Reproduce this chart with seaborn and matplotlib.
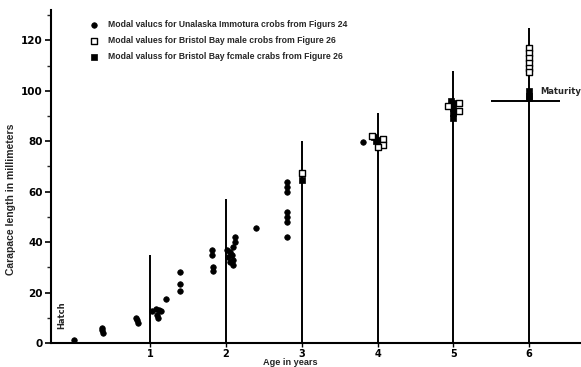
import numpy as np
import pandas as pd
import matplotlib
matplotlib.use("Agg")
import matplotlib.pyplot as plt
from matplotlib.ticker import MultipleLocator
import seaborn as sns

# ---- data ----
unalaska_age = [0.0, 0.36, 0.37, 0.38, 0.82, 0.83, 0.84,
                1.03, 1.08, 1.12, 1.15, 1.09, 1.10, 1.21,
                1.40, 1.40, 1.40, 1.82, 1.82, 1.83, 1.83,
                2.02, 2.05, 2.08, 2.10, 2.05, 2.10, 2.03, 2.12, 2.12, 2.10,
                2.40, 2.80, 2.80, 2.80, 2.80, 2.80, 2.80, 2.80, 3.81]
unalaska_len = [1, 6, 5, 4, 10, 9, 8,
                12.5, 13.5, 13, 12.5, 11, 10, 17.5,
                28, 23.5, 20.5, 37, 35, 30, 28.5,
                37, 36, 35, 33, 32, 31, 34, 42, 40, 38,
                45.7, 64, 62, 60, 52, 50, 48, 42, 79.5]
bb_male_age = [3.0, 3.93, 4.07, 4.07, 4.00, 4.93, 5.07, 5.07,
               6.0, 6.0, 6.0, 6.0, 6.0, 6.0]
bb_male_len = [67.5, 82, 81, 78.5, 77.5, 94, 95, 92,
               117, 115, 113, 111, 109, 107.5]
bb_female_age = [3.0, 3.96, 4.0, 3.98, 4.97, 5.0, 5.0, 5.0, 5.0, 6.0, 6.0, 6.0]
bb_female_len = [64.5, 81.5, 80.5, 80, 96, 95, 93, 91, 89, 100, 98, 97]

year_lines = [1, 2, 3, 4, 5, 6]
year_line_tops = [35, 57, 80, 91, 108, 125]
maturity_len = 96

series_labels = ["Modal valucs for Unalaska Immotura crobs from Figurs 24",
                 "Modal values for Bristol Bay male crobs from Figure 26",
                 "Modal valuss for Bristol Bay fcmale crabs from Figure 26"]

# ---- figure ----
sns.set_theme(style="white")
plt.rcParams['font.family'] = ['DejaVu Sans']
plt.rcParams['font.weight'] = 'bold'

fig = plt.figure(figsize=(5.81, 3.67), dpi=100)
ax = fig.add_axes([51/581, 1-343/367, 529/581, 333/367])

ax.vlines(year_lines, 0, year_line_tops, color="black", lw=1.4, zorder=1)
ax.hlines(maturity_len, 5.49, 6.41, color="black", lw=1.4, zorder=1)

df_u = pd.DataFrame({"age": unalaska_age, "len": unalaska_len})
df_m = pd.DataFrame({"age": bb_male_age, "len": bb_male_len})
df_f = pd.DataFrame({"age": bb_female_age, "len": bb_female_len})

sns.scatterplot(data=df_u, x="age", y="len", ax=ax, marker="o", s=16,
                color="black", edgecolor="black", linewidth=0.5,
                label=series_labels[0], zorder=3)
sns.scatterplot(data=df_m, x="age", y="len", ax=ax, marker="s", s=14,
                facecolor="white", edgecolor="black", linewidth=1.0,
                label=series_labels[1], zorder=4)
sns.scatterplot(data=df_f, x="age", y="len", ax=ax, marker="s", s=16,
                color="black", edgecolor="black", linewidth=0.5,
                label=series_labels[2], zorder=3)

ax.set_xlim(-0.306, 6.67)
ax.set_ylim(0, 132)
ax.set_xticks(year_lines)
ax.set_xticklabels([str(v) for v in year_lines])
ax.set_yticks(np.arange(0, 121, 20))
ax.yaxis.set_minor_locator(MultipleLocator(10))

for s in ["top", "right"]:
    ax.spines[s].set_visible(False)
for s in ["left", "bottom"]:
    ax.spines[s].set_color("black")
    ax.spines[s].set_linewidth(1.5)

ax.tick_params(axis="y", which="major", direction="out", length=4, width=1.2,
               left=True, labelsize=7.5, colors="black", pad=2)
ax.tick_params(axis="y", which="minor", direction="out", length=3, width=1.0, left=True)
ax.tick_params(axis="x", which="major", direction="out", length=3, width=1.0,
               bottom=True, labelsize=7, colors="black", pad=1.5)

lab_font = ['Liberation Sans', 'DejaVu Sans']
ax.set_xlabel("Age in years", fontsize=6.6, fontweight="bold", family=lab_font,
              va="top")
ax.set_ylabel("Carapace length in millimeters", fontsize=7.5, fontweight="bold",
              family=lab_font)
ax.xaxis.set_label_coords(0.452, -0.046)
ax.yaxis.set_label_coords(-0.066, 0.43)

ax.text(-0.16, 11, "Hatch", rotation=90, fontsize=6, fontweight="bold",
        ha="center", va="center")
ax.text(6.15, 99.5, "Maturity", fontsize=6, fontweight="bold",
        ha="left", va="center")

leg = ax.legend(loc="upper left", bbox_to_anchor=(82/581, 1-17/367),
                bbox_transform=fig.transFigure, frameon=False,
                prop={"family": lab_font, "weight": "bold", "size": 6.2},
                handletextpad=0.6, labelspacing=0.8,
                borderaxespad=0, markerscale=1.0)

fig.savefig("out.png", dpi=100, facecolor="white")
